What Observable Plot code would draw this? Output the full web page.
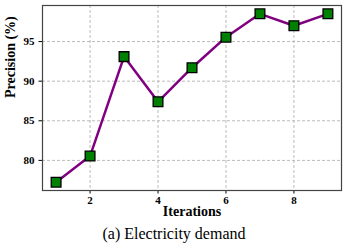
<!DOCTYPE html>
<html><head><meta charset="utf-8">
<script src="https://cdn.jsdelivr.net/npm/d3@7"></script>
<script src="https://cdn.jsdelivr.net/npm/@observablehq/plot@0.6"></script>
<style>
body{margin:0;background:#fff;}
#cap{width:348px;text-align:center;font-family:'Liberation Serif';font-size:16px;line-height:18px;color:#000;margin-top:0;}
</style>
</head><body>
<div id="chart"></div>
<div id="cap">(a) Electricity demand</div>
<script>
const iterations = [1, 2, 3, 4, 5, 6, 7, 8, 9];
const precision = [77.25, 80.55, 93.1, 87.4, 91.7, 95.55, 98.5, 97.0, 98.5];
const xTicks = [2, 4, 6, 8];
const yTicks = [80, 85, 90, 95];
const xLabel = "Iterations";
const yLabel = "Precision (%)";
const data = iterations.map((x, i) => ({x, y: precision[i]}));
const font = "Liberation Serif";
const plot = Plot.plot({
  width: 348, height: 225,
  marginLeft: 42, marginRight: 7, marginTop: 5, marginBottom: 35,
  style: {fontFamily: font, background: "#fff", color: "#000"},
  x: {domain: [0.6, 9.4]},
  y: {domain: [76.2, 99.55]},
  marks: [
    Plot.gridX(xTicks, {stroke: "#bbb", strokeOpacity: 1, strokeDasharray: "3,2"}),
    Plot.gridY(yTicks, {stroke: "#bbb", strokeOpacity: 1, strokeDasharray: "3,2"}),
    Plot.axisX({ticks: xTicks, tickSize: 3.5, fontSize: 11, fontWeight: "bold", fontFamily: font,
      label: null, tickPadding: 2.5}),
    Plot.axisY({ticks: yTicks, tickSize: 3.5, fontSize: 11, fontWeight: "bold", fontFamily: font,
      label: null, tickPadding: 4.5}),
    Plot.text([xLabel], {text: d => d, frameAnchor: "bottom", dy: 25.5, fontSize: 14, fontWeight: "bold", fontFamily: font, fill: "#000"}),
    Plot.text([yLabel], {text: d => d, frameAnchor: "left", dx: -32, rotate: -90, fontSize: 14, fontWeight: "bold", fontFamily: font, fill: "#000"}),
    Plot.frame({stroke: "#444", strokeWidth: 1.2}),
    Plot.line(data, {x: "x", y: "y", stroke: "#800080", strokeWidth: 2.5}),
    Plot.dot(data, {x: "x", y: "y", symbol: "square", r: 5.5, fill: "#008000", stroke: "#000", strokeWidth: 1.3})
  ]
});
document.getElementById("chart").appendChild(plot);
</script>
</body></html>
